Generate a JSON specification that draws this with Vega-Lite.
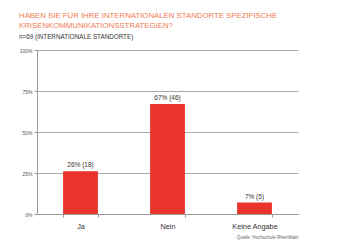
{
  "$schema": "https://vega.github.io/schema/vega-lite/v6.json",
  "width": 261,
  "height": 164,
  "autosize": "none",
  "padding": {"left": 37, "top": 50, "right": 59, "bottom": 30},
  "background": "white",
  "config": {
    "font": "Liberation Sans",
    "view": {"stroke": null}
  },
  "title": {
    "text": ["HABEN SIE FÜR IHRE INTERNATIONALEN STANDORTE SPEZIFISCHE", "KRISENKOMMUNIKATIONSSTRATEGIEN?"],
    "subtitle": "n=69 (INTERNATIONALE STANDORTE)",
    "anchor": "start",
    "frame": "group",
    "dx": -18,
    "fontSize": 7.8,
    "fontWeight": "normal",
    "color": "#ef7a52",
    "lineHeight": 10,
    "subtitleFontSize": 6.3,
    "subtitleColor": "#333333",
    "subtitlePadding": 4,
    "offset": 8
  },
  "data": {
    "values": [
      {"antwort": "Ja", "prozent": 26, "label": "26% (18)"},
      {"antwort": "Nein", "prozent": 67, "label": "67% (46)"},
      {"antwort": "Keine Angabe", "prozent": 7, "label": "7% (5)"}
    ]
  },
  "encoding": {
    "x": {
      "field": "antwort",
      "type": "nominal",
      "sort": null,
      "scale": {"paddingInner": 0.6, "paddingOuter": 0.3},
      "axis": {
        "title": "Quelle: Hochschule RheinMain",
        "titleAnchor": "end",
        "titleAlign": "right",
        "titleFontSize": 4.5,
        "titleFontWeight": "normal",
        "titleColor": "#666666",
        "titlePadding": 5,
        "labelAngle": 0,
        "labelFontSize": 7.3,
        "labelColor": "#333333",
        "labelPadding": 5,
        "tickBand": "extent",
        "tickSize": 3,
        "tickColor": "#999999",
        "domainColor": "#999999"
      }
    },
    "y": {
      "field": "prozent",
      "type": "quantitative",
      "scale": {"domain": [0, 100]},
      "axis": {
        "title": null,
        "values": [0, 25, 50, 75, 100],
        "labelExpr": "datum.value + '%'",
        "labelFontSize": 5,
        "labelColor": "#555555",
        "labelPadding": 2,
        "tickSize": 3,
        "tickColor": "#999999",
        "domainColor": "#999999",
        "gridColor": "#aaaaaa",
        "gridOpacity": 1
      }
    }
  },
  "layer": [
    {"mark": {"type": "bar", "color": "#e8342a"}},
    {
      "mark": {"type": "text", "baseline": "bottom", "dy": -3, "fontSize": 6.5, "color": "#333333"},
      "encoding": {"text": {"field": "label"}}
    }
  ]
}
